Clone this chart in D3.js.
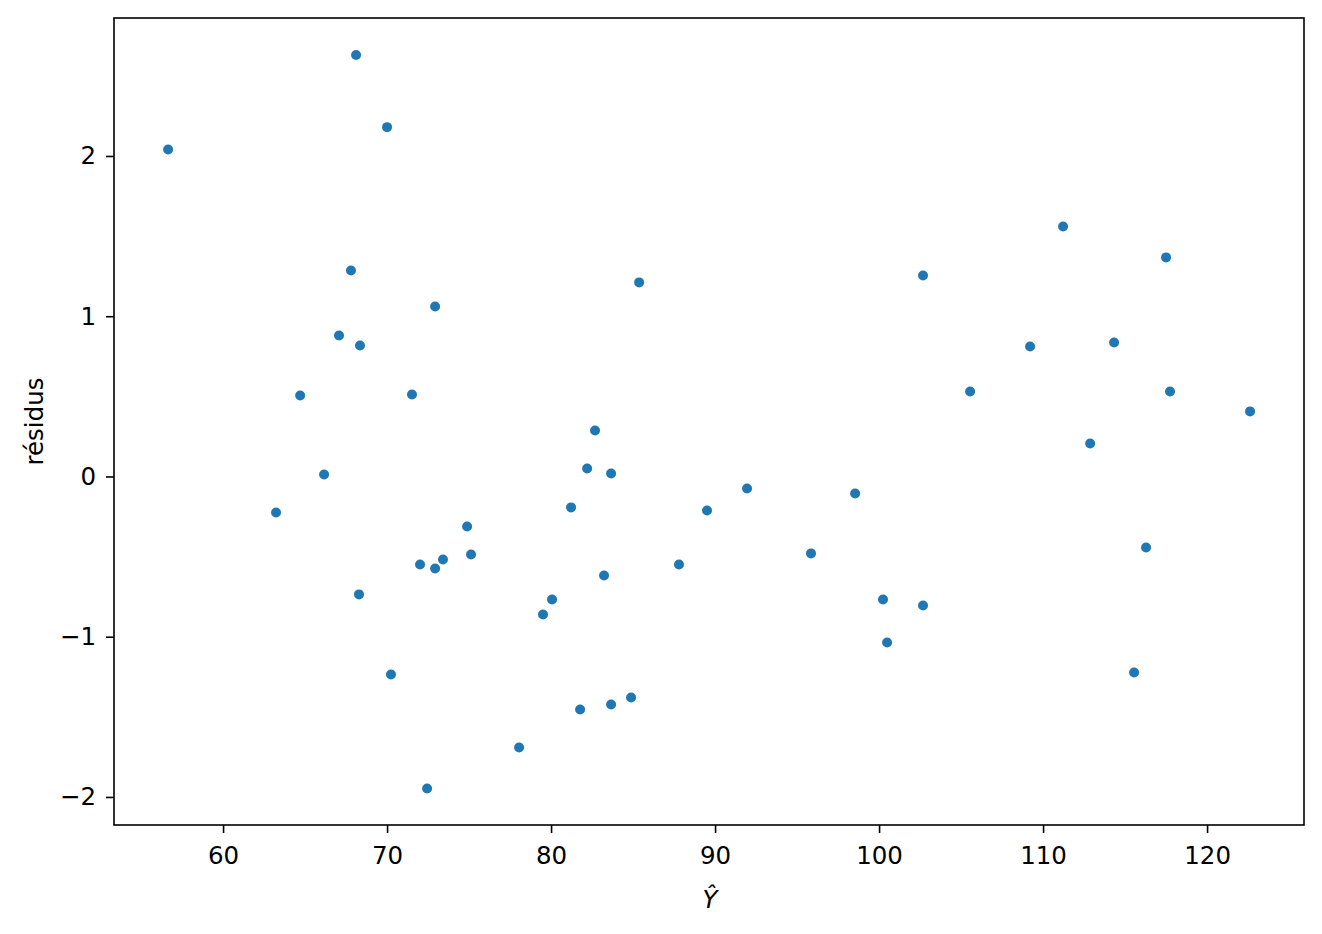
<html>
<script src="https://d3js.org/d3.v7.min.js"></script>
<style>
body { margin: 0; background: white; }
text { font-family: "DejaVu Sans", sans-serif; }
</style>
<body>
<div id="chart"></div>
<script>
// fitted values and residuals
var yhat = [56.65, 68.11, 70.0, 63.23, 64.70, 66.16, 67.07, 67.80, 68.35, 68.29,
            70.24, 71.52, 72.93, 72.01, 72.93, 73.41, 72.44, 74.88, 75.12, 78.05,
            79.51, 80.06, 81.22, 81.77, 82.20, 82.68, 83.23, 83.66, 83.66, 84.88,
            85.37, 87.80, 89.51, 91.95, 95.85, 98.54, 100.24, 100.49, 102.68, 102.68,
            105.55, 109.21, 111.22, 112.87, 114.33, 115.55, 116.28, 117.50, 117.74, 122.62]
var resid = [2.04, 2.63, 2.18, -0.225, 0.505, 0.012, 0.88, 1.285, 0.817, -0.736,
             -1.236, 0.512, 1.061, -0.549, -0.574, -0.518, -1.947, -0.312, -0.487, -1.691,
             -0.861, -0.768, -0.193, -1.454, 0.05, 0.287, -0.618, 0.019, -1.423, -1.379,
             1.211, -0.549, -0.212, -0.075, -0.48, -0.106, -0.768, -1.036, 1.254, -0.805,
             0.53, 0.811, 1.56, 0.206, 0.836, -1.223, -0.443, 1.367, 0.53, 0.406]
var xticks = [60, 70, 80, 90, 100, 110, 120]
var yticks = [-2, -1, 0, 1, 2]

function draw() {
    var W = 1322, H = 934
    var mLeft = 114, mRight = 1304, mTop = 18, mBottom = 825
    var fs = 24.5

    var xs = d3.scaleLinear().domain([53.35, 125.91]).range([mLeft, mRight])
    var ys = d3.scaleLinear().domain([-2.175, 2.861]).range([mBottom, mTop])

    var svg = d3.select('#chart').append('svg')
        .attr('width', W)
        .attr('height', H)

    svg.append('rect')
        .attr('width', W).attr('height', H)
        .attr('fill', 'white')

    svg.append('g')
        .selectAll('circle')
        .data(yhat)
        .enter()
        .append('circle')
        .attr('cx', function(d) { return xs(d) })
        .attr('cy', function(d, i) { return ys(resid[i]) })
        .attr('r', 5)
        .attr('fill', '#1f77b4')

    svg.append('g')
        .attr('transform', 'translate(0,' + mBottom + ')')
        .call(d3.axisBottom(xs).tickValues(xticks).tickSize(8).tickPadding(14).tickFormat(d3.format('d')))

    svg.append('g')
        .attr('transform', 'translate(' + mLeft + ',0)')
        .call(d3.axisLeft(ys).tickValues(yticks).tickSize(8).tickPadding(10)
            .tickFormat(function(d) { return d < 0 ? '\u2212' + Math.abs(d) : d }))

    svg.selectAll('.domain').remove()
    svg.selectAll('.tick line').attr('stroke', 'black').attr('stroke-width', 1.6)
    svg.selectAll('.tick text')
        .attr('fill', 'black')
        .attr('font-size', fs)
        .attr('font-family', '"DejaVu Sans", sans-serif')

    // frame
    svg.append('rect')
        .attr('x', mLeft).attr('y', mTop)
        .attr('width', mRight - mLeft).attr('height', mBottom - mTop)
        .attr('fill', 'none')
        .attr('stroke', 'black')
        .attr('stroke-width', 1.6)

    svg.append('text')
        .attr('x', 710)
        .attr('y', 908)
        .attr('text-anchor', 'middle')
        .attr('font-size', fs)
        .style('font-style', 'italic')
        .text('\u0176')

    svg.append('text')
        .attr('transform', 'translate(43,' + ((mTop + mBottom) / 2) + ') rotate(-90)')
        .attr('text-anchor', 'middle')
        .attr('font-size', fs)
        .text('r\u00e9sidus')
}
draw()
</script>
</body>
</html>
